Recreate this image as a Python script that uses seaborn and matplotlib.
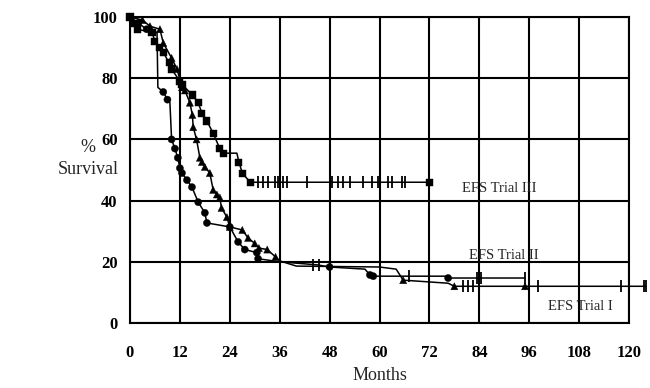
import numpy as np
import pandas as pd
import matplotlib
matplotlib.use("Agg")
import matplotlib.pyplot as plt
import seaborn as sns

# ---- data ----
trials = ["I", "II", "III"]

t1 = [0, 3, 4.8, 7.2, 8, 10, 11.3, 12.5, 13.2, 14.4, 15, 15.2, 16, 16.8, 17.3, 18, 19.2, 20,
      20.9, 21.6, 22, 23.3, 24, 27, 28.4, 30, 31, 33, 35, 36, 40, 60, 64, 65.7, 76.5, 78, 95, 124]
s1 = [100, 99, 97, 96, 91.5, 86.6, 83, 77, 76, 72, 68, 64, 60, 54, 52.6, 51, 49, 43.5,
      42, 41, 37.6, 34.6, 31.4, 30.4, 27.8, 26, 24.5, 24, 21.6, 20.3, 18.6, 18.3, 17.6, 14, 13, 12, 12, 12]
e1 = [0, 1, 1, 1, 1, 1, 1, 1, 1, 1, 1, 1, 1, 1, 1, 1, 1, 1,
      1, 1, 1, 1, 1, 1, 1, 1, 1, 1, 1, 0, 0, 0, 0, 1, 0, 1, 1, 0]
c1 = [80, 81.2, 82.4, 98, 118, 123.5, 124]

t2 = [0, 2, 4, 6.5, 6.7, 8, 9, 9.6, 10, 10.8, 11.5, 12, 12.5, 13.7, 14.9, 16.4, 18, 18.5,
      24, 26, 27.6, 30.5, 30.8, 36, 45, 48, 56.5, 57.7, 58.5, 76, 76.5, 95]
s2 = [100, 98, 96, 95, 77, 75.5, 73, 72, 60, 57, 54, 50.6, 49, 46.7, 44.4, 39.5, 36, 32.7,
      31.4, 26.5, 24, 23, 21, 20, 19, 18.3, 17.6, 15.7, 15.3, 15.3, 14.7, 14.7]
e2 = [0, 1, 1, 0, 0, 1, 1, 0, 1, 1, 1, 1, 1, 1, 1, 1, 1, 1,
      1, 1, 1, 1, 1, 0, 0, 1, 0, 1, 1, 0, 1, 0]
c2 = [44, 45.5, 67, 83.5, 84.3, 95]

t3 = [0, 1.2, 1.7, 5.3, 6, 7, 8, 9.4, 10, 12, 12.5, 15, 16.4, 17.3, 18.5, 20, 21.6, 22.4,
      25.7, 26.2, 27, 28.9, 72]
s3 = [100, 98, 96, 95, 92, 90, 88.5, 85, 83, 79, 78, 74.5, 72, 68.6, 66, 62, 57, 55.5,
      55.5, 52.6, 49, 46, 46]
e3 = [1, 1, 1, 1, 1, 1, 1, 1, 1, 1, 1, 1, 1, 1, 1, 1, 1, 1,
      0, 1, 1, 1, 1]
c3 = [30.8, 32, 33.2, 34.9, 35.5, 36.8, 37.8, 42.6, 48.6, 50, 51.2, 52.9, 56, 58.2, 59.6,
      62, 63, 65.4, 66.1]

x_ticks = [0, 12, 24, 36, 48, 60, 72, 84, 96, 108, 120]
y_ticks = [0, 20, 40, 60, 80, 100]
labels = {"I": "EFS Trial I", "II": "EFS Trial II", "III": "EFS Trial III"}

# ---- build tables ----
curves = {"I": (t1, s1, e1, c1), "II": (t2, s2, e2, c2), "III": (t3, s3, e3, c3)}
line_rows, cens_rows = [], []
for k in trials:
    t, s, e, c = curves[k]
    for ti, si, ei in zip(t, s, e):
        line_rows.append(dict(trial=k, month=ti, surv=si, event=ei))
    for ci, yi in zip(c, np.interp(c, t, s)):
        cens_rows.append(dict(trial=k, month=ci, surv=yi))
lines = pd.DataFrame(line_rows)
cens = pd.DataFrame(cens_rows)
events = lines[lines["event"] == 1]

sns.set_theme(style="white")
plt.rcParams["font.family"] = ["Liberation Serif", "DejaVu Serif"]

fig = plt.figure(figsize=(6.5, 3.88), dpi=100)
ax = fig.add_axes([130 / 650, 1 - 323 / 388, (629 - 130) / 650, (323 - 17) / 388])

sns.lineplot(data=lines, x="month", y="surv", hue="trial", units="trial", estimator=None,
             sort=False, palette={k: "black" for k in trials}, linewidth=1.1,
             legend=False, ax=ax)
sns.scatterplot(data=events, x="month", y="surv", style="trial",
                markers={"I": "^", "II": "o", "III": "s"}, color="black", s=26,
                edgecolor="black", linewidth=0.3, legend=False, ax=ax)
sns.scatterplot(data=cens, x="month", y="surv", marker="|", color="black", s=70,
                linewidth=1.3, legend=False, ax=ax)
for art in ax.lines + ax.collections:
    art.set_clip_on(False)

ax.set_xlim(0, 120)
ax.set_ylim(0, 100)
ax.set_xticks(x_ticks)
ax.set_yticks(y_ticks)
ax.set_xticklabels([str(v) for v in x_ticks], fontweight="bold", fontsize=12)
ax.set_yticklabels([str(v) for v in y_ticks], fontweight="bold", fontsize=12)
ax.grid(True, color="black", linewidth=1.5)
ax.set_axisbelow(True)
for sp in ax.spines.values():
    sp.set_color("black")
    sp.set_linewidth(1.5)
ax.tick_params(axis="y", direction="out", length=6, width=1.5, pad=3, colors="black")
ax.tick_params(axis="x", direction="inout", length=8, width=1.5, pad=12, colors="black")
ax.set_xlabel("Months", fontsize=13, labelpad=4)

# y-axis title: "%" over "Survival", horizontal
ax.set_ylabel("Survival", fontsize=13, rotation=0, ha="center", va="center", labelpad=0)
ax.yaxis.set_label_coords((88 - 130) / 499, (323 - 170) / 306)
ax.text((88 - 130) / 499, (323 - 148) / 306, "%", transform=ax.transAxes,
        fontsize=13, ha="center", va="center")

ax.text(79.8, 44, labels["III"], fontsize=10.5, va="center", ha="left")
ax.text(81.5, 22.2, labels["II"], fontsize=10.5, va="center", ha="left")
ax.text(100.5, 5.5, labels["I"], fontsize=10.5, va="center", ha="left")

fig.savefig("out.png", dpi=100)
